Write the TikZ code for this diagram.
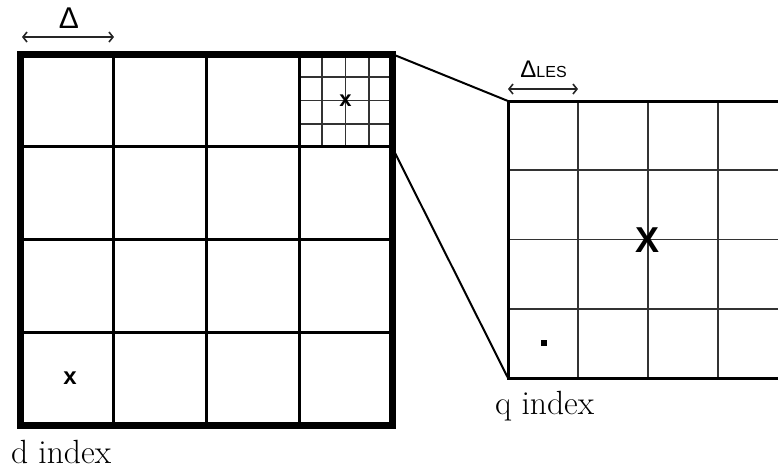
\documentclass[tikz,border=0pt]{standalone}
\usepackage{fontspec}
\newfontfamily\labelfont{Liberation Sans}
\usetikzlibrary{arrows.meta}

\tikzset{
  outer/.style={line width=3.5pt},
  coarse/.style={line width=1.5pt},
  fine/.style={line width=0.8pt,black!80},
  zoomline/.style={line width=1pt},
  dim/.style={<->,line width=0.8pt,black!85},
}

\begin{document}
\begin{tikzpicture}[x=0.5pt,y=-0.5pt,>={Straight Barb[length=2pt,width=5pt]}]
\useasboundingbox (0,0) rectangle (778,468);
% fine grid inside the top right cell
\foreach \i in {1,2,3}{
  \draw[fine](299+23.25*\i,54)--(299+23.25*\i,147);
  \draw[fine](299,54+23.25*\i)--(392,54+23.25*\i);
}
% coarse grid (d index)
\foreach \i in {1,2,3}{
  \draw[coarse](20+93*\i,54)--(20+93*\i,425);
  \draw[coarse](20,54+92.75*\i)--(392,54+92.75*\i);
}
\draw[outer](20,54) rectangle (392,425);
% fine grid (q index), cut at the right edge
\foreach \i in {1,2,3}{
  \draw[fine](508+70*\i,101)--(508+70*\i,378);
  \draw[fine](508,101+69.25*\i)--(778,101+69.25*\i);
}
\draw[coarse](778,101)--(508,101)--(508,378)--(778,378);
% zoom lines
\coordinate (dNE) at (392,54);
\coordinate (dcell) at (392,147);
\coordinate (qNW) at (508,101);
\coordinate (qSW) at (508,378);
\draw[zoomline](dNE)--(qNW);
\draw[zoomline](dcell)--(qSW);
% widths
\coordinate (dA) at (22,37);
\coordinate (dB) at (114,37);
\coordinate (qA) at (508,89);
\coordinate (qB) at (578,89);
\draw[dim](dA)--(dB);
\draw[dim](qA)--(qB);
\node (delta) at (69,18) {\labelfont\fontsize{15}{17}\selectfont Δ};
\node[anchor=base west,inner sep=0pt] (deltales) at (520,77)
  {\labelfont\fontsize{12}{14}\selectfont Δ\fontsize{8}{9}\selectfont LES};
% marks
\node (xd) at (70,378) {\labelfont\bfseries\fontsize{12}{14}\selectfont x};
\node (xfine) at (345.5,100.5) {\labelfont\bfseries\fontsize{11}{13}\selectfont x};
\node (xq) at (648,240) {\labelfont\bfseries\fontsize{18}{20}\selectfont X};
\fill (541,340) rectangle (547,346);
% index labels
\node[anchor=west] (dlabel) at (4,452) {\fontsize{16.8}{19}\selectfont d index};
\node[anchor=west] (qlabel) at (488,406) {\fontsize{16.8}{19}\selectfont q index};
\end{tikzpicture}
\end{document}
